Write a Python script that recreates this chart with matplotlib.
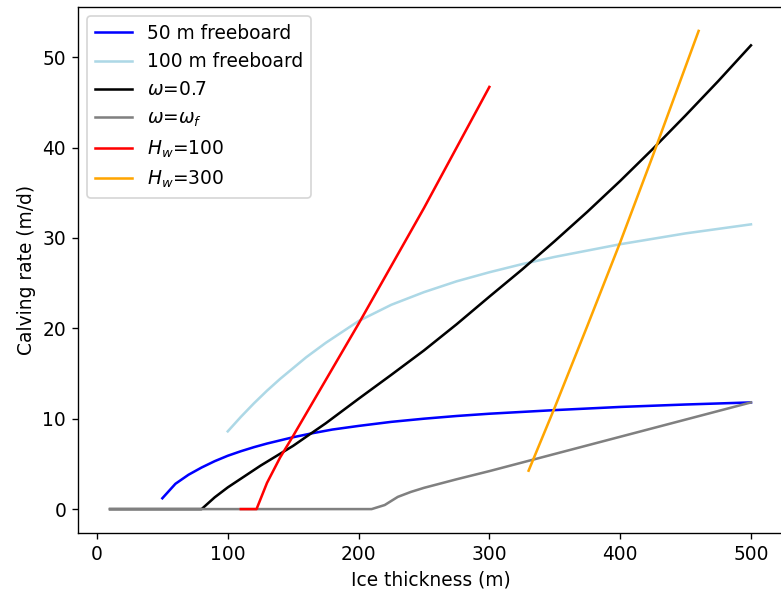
import matplotlib
matplotlib.use("Agg")
import matplotlib.pyplot as plt

# 50 m freeboard
x_fb50 = [50, 60, 70, 80, 90, 100, 110, 120, 130, 140, 150, 165, 180, 200, 225, 250, 275, 300, 350, 400, 450, 500]
y_fb50 = [1.2, 2.8, 3.8, 4.6, 5.3, 5.9, 6.4, 6.85, 7.25, 7.6, 7.95, 8.4, 8.8, 9.2, 9.65, 10.0, 10.3, 10.55, 10.95, 11.3, 11.57, 11.8]

# 100 m freeboard
x_fb100 = [100, 110, 120, 130, 140, 150, 160, 175, 200, 225, 250, 275, 300, 325, 350, 375, 400, 450, 500]
y_fb100 = [8.6, 10.2, 11.7, 13.1, 14.4, 15.6, 16.8, 18.4, 20.8, 22.6, 24.0, 25.2, 26.2, 27.1, 27.9, 28.6, 29.3, 30.5, 31.5]

# omega = 0.7
x_w07 = [10, 80, 90, 100, 125, 150, 175, 200, 225, 250, 275, 300, 325, 350, 375, 400, 425, 450, 475, 500]
y_w07 = [0, 0, 1.3, 2.4, 4.8, 7.0, 9.5, 12.2, 14.85, 17.55, 20.45, 23.5, 26.5, 29.65, 32.9, 36.3, 39.85, 43.55, 47.35, 51.3]

# omega = omega_f
x_wf = [10, 210, 220, 230, 240, 250, 275, 300, 350, 400, 450, 500]
y_wf = [0, 0, 0.45, 1.35, 1.9, 2.35, 3.3, 4.2, 6.1, 8.0, 9.9, 11.8]

# H_w = 100
x_hw100 = [110, 122, 130, 140, 150, 200, 250, 300]
y_hw100 = [0, 0, 2.9, 5.7, 8.1, 20.5, 33.3, 46.7]

# H_w = 300
x_hw300 = [330, 350, 375, 400, 425, 460]
y_hw300 = [4.25, 11.25, 20.3, 29.5, 39.1, 52.9]

plt.rcParams["font.size"] = 11

dpi = 122
fig = plt.figure(figsize=(781 / dpi, 595 / dpi), dpi=dpi)
ax = fig.add_axes([78 / 781, 62 / 595, 705 / 781, 526 / 595])

ax.plot(x_fb50, y_fb50, color="blue", label="50 m freeboard")
ax.plot(x_fb100, y_fb100, color="lightblue", label="100 m freeboard")
ax.plot(x_w07, y_w07, color="black", label=r"$\omega$=0.7")
ax.plot(x_wf, y_wf, color="gray", label=r"$\omega$=$\omega_f$")
ax.plot(x_hw100, y_hw100, color="red", label=r"$H_w$=100")
ax.plot(x_hw300, y_hw300, color="orange", label=r"$H_w$=300")

ax.set_xlabel("Ice thickness (m)")
ax.set_ylabel("Calving rate (m/d)")
ax.legend(loc="upper left")

fig.savefig("out.png", dpi=dpi)
